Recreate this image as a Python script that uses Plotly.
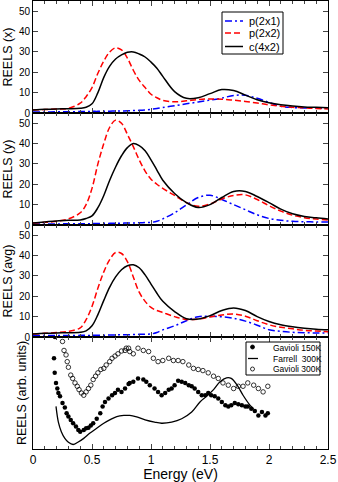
import plotly.graph_objects as go
from plotly.subplots import make_subplots

# ---------------- data ----------------
energy = [0.0, 0.1, 0.2, 0.3, 0.4, 0.45, 0.5, 0.55, 0.6, 0.65, 0.7, 0.75, 0.8, 0.85,
          0.9, 0.95, 1.0, 1.05, 1.1, 1.2, 1.3, 1.4, 1.5, 1.6, 1.7, 1.8, 1.9, 2.0,
          2.1, 2.2, 2.3, 2.4, 2.5]

# panel (x)
x_p2x1 = [0.5, 0.5, 0.6, 0.6, 0.7, 0.7, 0.8, 0.8, 0.9, 0.9, 1.0, 1.0, 1.1, 1.2,
          1.3, 1.5, 1.8, 2.2, 2.7, 3.6, 4.5, 5.4, 6.3, 7.3, 8.6, 8.7, 7.2, 5.2,
          3.3, 2.7, 2.5, 2.4, 2.3]
x_p2x2 = [1.5, 1.7, 2.0, 2.3, 4.8, 8.0, 12.5, 19.5, 25.5, 30.0, 32.0, 31.0, 27.0, 21.0,
          16.0, 12.5, 9.2, 7.5, 6.2, 5.5, 6.0, 6.6, 6.9, 6.8, 6.3, 5.7, 4.9, 4.0,
          3.3, 2.8, 2.5, 2.2, 2.0]
x_c4x2 = [1.5, 1.8, 2.0, 2.1, 2.3, 2.8, 4.5, 10.0, 17.5, 23.0, 26.5, 28.5, 29.8, 30.0,
          29.0, 27.5, 25.0, 22.0, 18.0, 10.5, 7.2, 7.5, 9.5, 11.5, 11.0, 8.8, 6.5, 5.0,
          4.0, 3.4, 3.0, 2.8, 2.6]

# panel (y)
y_p2x1 = [0.5, 0.5, 0.5, 0.6, 0.6, 0.6, 0.7, 0.7, 0.8, 0.8, 0.9, 0.9, 1.0, 1.0,
          1.1, 1.2, 1.3, 1.8, 3.0, 6.0, 9.8, 13.5, 14.6, 12.5, 10.0, 7.5, 5.0, 3.2,
          2.3, 1.8, 1.6, 1.5, 1.5]
y_p2x2 = [1.0, 1.3, 1.8, 3.0, 6.0, 10.0, 18.0, 30.0, 40.0, 48.0, 51.5, 50.0, 44.5, 38.5,
          32.0, 26.5, 22.5, 20.0, 18.0, 14.5, 11.0, 9.2, 10.3, 12.8, 14.5, 14.8, 12.5, 9.5,
          6.8, 4.8, 3.6, 2.9, 2.5]
y_c4x2 = [1.0, 1.5, 2.0, 2.3, 2.5, 3.2, 4.5, 8.5, 14.5, 22.0, 28.5, 34.0, 38.0, 40.0,
          39.0, 36.5, 32.0, 27.0, 22.0, 15.5, 11.0, 8.6, 10.0, 13.5, 16.5, 16.5, 14.0, 11.0,
          7.8, 5.5, 4.2, 3.5, 3.0]

# panel (avg)
a_p2x1 = [0.7, 0.7, 0.7, 0.7, 0.8, 0.8, 0.8, 0.9, 0.9, 1.0, 1.0, 1.1, 1.1, 1.2,
          1.3, 1.4, 1.5, 2.2, 3.5, 5.5, 8.0, 10.0, 10.2, 9.9, 9.2, 7.8, 5.8, 3.6,
          2.8, 2.3, 2.1, 2.0, 2.0]
a_p2x2 = [1.5, 1.8, 2.2, 2.8, 4.5, 8.5, 15.0, 24.0, 32.0, 38.0, 41.5, 41.0, 37.0, 29.5,
          22.0, 17.5, 14.5, 13.0, 12.0, 10.0, 8.6, 8.8, 9.8, 10.8, 11.3, 10.2, 8.0, 6.0,
          4.8, 4.0, 3.3, 2.9, 2.6]
a_c4x2 = [1.5, 1.8, 2.0, 2.1, 2.3, 3.0, 5.5, 11.0, 18.0, 24.5, 29.5, 33.0, 35.0, 35.5,
          34.0, 30.5, 26.0, 21.5, 17.5, 12.5, 9.0, 8.8, 10.5, 13.0, 14.3, 13.0, 10.0, 7.6,
          6.0, 5.0, 4.3, 3.8, 3.5]

# panel (arb. units) experimental / Farrell
g150_e = [0.186, 0.178, 0.184, 0.195, 0.206, 0.215, 0.229, 0.25, 0.27, 0.285, 0.30,
          0.32, 0.34, 0.364, 0.384, 0.40, 0.43, 0.45, 0.47, 0.49, 0.51, 0.54, 0.57,
          0.59, 0.61, 0.64, 0.67, 0.695, 0.72, 0.75, 0.78, 0.81, 0.82, 0.85, 0.89,
          0.935, 0.96, 0.99, 1.03, 1.06, 1.09, 1.12, 1.15, 1.175, 1.20, 1.23, 1.26,
          1.29, 1.32, 1.345, 1.37, 1.40, 1.43, 1.46, 1.485, 1.51, 1.54, 1.57, 1.60,
          1.63, 1.655, 1.68, 1.71, 1.74, 1.77, 1.80, 1.82, 1.85, 1.88, 1.91, 1.94,
          1.97, 1.99]
g150_v = [1.00, 0.81, 0.68, 0.59, 0.54, 0.50, 0.47, 0.41, 0.37, 0.32, 0.29,
          0.26, 0.23, 0.20, 0.17, 0.155, 0.17, 0.185, 0.19, 0.21, 0.23, 0.27, 0.32,
          0.38, 0.42, 0.45, 0.48, 0.50, 0.53, 0.51, 0.54, 0.58, 0.59, 0.60, 0.63,
          0.62, 0.60, 0.57, 0.54, 0.51, 0.48, 0.50, 0.53, 0.54, 0.57, 0.61, 0.60,
          0.59, 0.57, 0.56, 0.54, 0.51, 0.48, 0.48, 0.50, 0.48, 0.47, 0.45, 0.42,
          0.39, 0.38, 0.39, 0.41, 0.40, 0.39, 0.38, 0.38, 0.36, 0.34, 0.30, 0.33,
          0.30, 0.32]

g300_e = [0.25, 0.263, 0.28, 0.29, 0.30, 0.32, 0.336, 0.356, 0.375, 0.39, 0.41,
          0.43, 0.45, 0.47, 0.49, 0.51, 0.53, 0.55, 0.575, 0.60, 0.62, 0.65, 0.67,
          0.695, 0.72, 0.75, 0.78, 0.79, 0.81, 0.82, 0.85, 0.89, 0.935, 0.98, 1.02,
          1.06, 1.10, 1.15, 1.19, 1.23, 1.27, 1.32, 1.36, 1.40, 1.44, 1.485, 1.53,
          1.57, 1.61, 1.655, 1.70, 1.74, 1.78, 1.82, 1.87, 1.91, 1.95, 1.99]
g300_v = [0.96, 0.88, 0.84, 0.78, 0.73, 0.66, 0.63, 0.59, 0.56, 0.53, 0.50,
          0.48, 0.51, 0.54, 0.57, 0.62, 0.65, 0.68, 0.71, 0.72, 0.75, 0.78, 0.81,
          0.83, 0.85, 0.875, 0.88, 0.90, 0.90, 0.87, 0.85, 0.90, 0.88, 0.87, 0.81,
          0.78, 0.79, 0.81, 0.79, 0.79, 0.78, 0.75, 0.72, 0.71, 0.70, 0.68, 0.65,
          0.63, 0.59, 0.57, 0.54, 0.56, 0.56, 0.59, 0.57, 0.54, 0.51, 0.56]

far_e = [0.195, 0.215, 0.24, 0.27, 0.30, 0.34, 0.38, 0.43, 0.48, 0.54, 0.60, 0.65,
         0.71, 0.77, 0.82, 0.87, 0.95, 1.03, 1.09, 1.175, 1.26, 1.345, 1.415, 1.47,
         1.53, 1.585, 1.64, 1.68, 1.73, 1.78, 1.84, 1.87]
far_v = [0.38, 0.24, 0.155, 0.095, 0.06, 0.04, 0.06, 0.095, 0.14, 0.185, 0.23, 0.26,
         0.29, 0.30, 0.30, 0.29, 0.26, 0.24, 0.23, 0.24, 0.27, 0.33, 0.42, 0.47,
         0.53, 0.60, 0.635, 0.63, 0.57, 0.48, 0.39, 0.36]

y_titles = ["REELS (x)", "REELS (y)", "REELS (avg)", "REELS (arb. units)"]
x_ticks = [0, 0.5, 1, 1.5, 2, 2.5]
legend_top = ["p(2x1)", "p(2x2)", "c(4x2)"]
legend_bot = ["Gavioli 150K", "Farrell  300K", "Gavioli 300K"]

# ---------------- figure ----------------
FONT = "Liberation Sans, Arial, sans-serif"
W, H = 338, 482
ML, MR, MT, MB = 33, 10, 1, 33
PW, PH = W - ML - MR, H - MT - MB

BLUE, RED, BLACK = "#0000ff", "#ff0000", "#000000"
DASH_RED = "6px,3px"
DASH_BLUE = "7px,3px,2px,3px"

fig = make_subplots(rows=4, cols=1, shared_xaxes=True, vertical_spacing=0)

theory = [(x_p2x1, x_p2x2, x_c4x2), (y_p2x1, y_p2x2, y_c4x2), (a_p2x1, a_p2x2, a_c4x2)]
for i, (b, r, k) in enumerate(theory):
    row = i + 1
    fig.add_trace(go.Scatter(x=energy, y=b, mode="lines", name=legend_top[0],
                             line=dict(color=BLUE, dash=DASH_BLUE, width=1.5, shape="spline"),
                             showlegend=False), row=row, col=1)
    fig.add_trace(go.Scatter(x=energy, y=r, mode="lines", name=legend_top[1],
                             line=dict(color=RED, dash=DASH_RED, width=1.5, shape="spline"),
                             showlegend=False), row=row, col=1)
    fig.add_trace(go.Scatter(x=energy, y=k, mode="lines", name=legend_top[2],
                             line=dict(color=BLACK, width=1.5, shape="spline"),
                             showlegend=False), row=row, col=1)

fig.add_trace(go.Scatter(x=g150_e, y=g150_v, mode="markers", name=legend_bot[0],
                         marker=dict(symbol="circle", size=4.5, color="black"),
                         showlegend=False), row=4, col=1)
fig.add_trace(go.Scatter(x=far_e, y=far_v, mode="lines", name=legend_bot[1],
                         line=dict(color="black", width=1.3, shape="spline"),
                         showlegend=False), row=4, col=1)
fig.add_trace(go.Scatter(x=g300_e, y=g300_v, mode="markers", name=legend_bot[2],
                         marker=dict(symbol="circle-open", size=4.5, color="black",
                                     line=dict(width=0.8)),
                         showlegend=False), row=4, col=1)

axis_common = dict(showline=True, linecolor="black", linewidth=1, mirror="ticks",
                   ticks="inside", tickcolor="#444", showgrid=False, zeroline=False)

for row in range(1, 5):
    fig.update_xaxes(range=[0, 2.5], tickvals=x_ticks, ticklen=5,
                     tickfont=dict(family=FONT, size=12, color="black"),
                     minor=dict(dtick=0.1, ticklen=3, ticks="inside", tickcolor="#444"),
                     showticklabels=(row == 4), row=row, col=1, **axis_common)
    if row < 4:
        fig.update_yaxes(range=[0, 55], dtick=10, ticklen=5, row=row, col=1,
                         tickfont=dict(family=FONT, size=10, color="black"),
                         title=dict(text=y_titles[row - 1], standoff=3,
                                    font=dict(family=FONT, size=12.5, color="black")),
                         **axis_common)
    else:
        fig.update_yaxes(range=[0, 1], showticklabels=False, ticks="", row=row, col=1,
                         showline=True, linecolor="black", linewidth=1, mirror=True,
                         showgrid=False, zeroline=False,
                         title=dict(text=y_titles[3], standoff=2,
                                    font=dict(family=FONT, size=12.5, color="black")))

fig.update_xaxes(title=dict(text="Energy (eV)", standoff=3,
                            font=dict(family=FONT, size=14, color="black")), row=4, col=1)


# ---------- legends drawn as layout decorations (pixel -> paper) ----------
def px(xp):
    return (xp - ML) / PW


def py(yp):
    return (H - MB - yp) / PH


shapes = []
annotations = []


def box(x0, x1, y0, y1):
    shapes.append(dict(type="rect", xref="paper", yref="paper", layer="above",
                       x0=px(x0), x1=px(x1), y0=py(y1), y1=py(y0),
                       line=dict(width=0), fillcolor="white"))
    for a0, a1, b0, b1 in [(x0, x1, y0, y0), (x0, x1, y1, y1),
                           (x0, x0, y0, y1), (x1, x1, y0, y1)]:
        shapes.append(dict(type="line", xref="paper", yref="paper", layer="above",
                           x0=px(a0), x1=px(a1), y0=py(b0), y1=py(b1),
                           line=dict(color="black", width=1)))


# top legend
box(222, 283, 12, 54)
for name, yy, col, dash in zip(legend_top, [21, 33, 46.5], [BLUE, RED, BLACK],
                               [DASH_BLUE, DASH_RED, "solid"]):
    shapes.append(dict(type="line", xref="paper", yref="paper", layer="above",
                       x0=px(225), x1=px(243), y0=py(yy), y1=py(yy),
                       line=dict(color=col, width=1.5, dash=dash)))
    annotations.append(dict(text=name, xref="paper", yref="paper", x=px(247), y=py(yy),
                            xanchor="left", yanchor="middle", showarrow=False,
                            font=dict(family=FONT, size=11, color="black")))

# bottom legend
box(246, 320, 342, 375)
shapes.append(dict(type="circle", xref="paper", yref="paper", layer="above",
                   x0=px(250.5), x1=px(254.5), y0=py(349), y1=py(345),
                   line=dict(color="black", width=0.8), fillcolor="black"))
shapes.append(dict(type="line", xref="paper", yref="paper", layer="above",
                   x0=px(248), x1=px(258), y0=py(358.5), y1=py(358.5),
                   line=dict(color="black", width=1.3)))
shapes.append(dict(type="circle", xref="paper", yref="paper", layer="above",
                   x0=px(250.5), x1=px(254.5), y0=py(371), y1=py(367),
                   line=dict(color="black", width=0.8), fillcolor="white"))
for name, yy in zip(legend_bot, [347.5, 358.5, 369]):
    annotations.append(dict(text=name, xref="paper", yref="paper", x=px(271), y=py(yy),
                            xanchor="left", yanchor="middle", showarrow=False,
                            font=dict(family=FONT, size=8.5, color="black")))

fig.update_layout(
    width=W, height=H,
    margin=dict(l=ML, r=MR, t=MT, b=MB, autoexpand=False),
    paper_bgcolor="white", plot_bgcolor="white",
    font=dict(family=FONT, color="black"),
    showlegend=False,
    shapes=shapes,
    annotations=annotations,
)

fig.write_html("out.html", config={"displayModeBar": False},
               post_script="document.body.style.margin='0';")
